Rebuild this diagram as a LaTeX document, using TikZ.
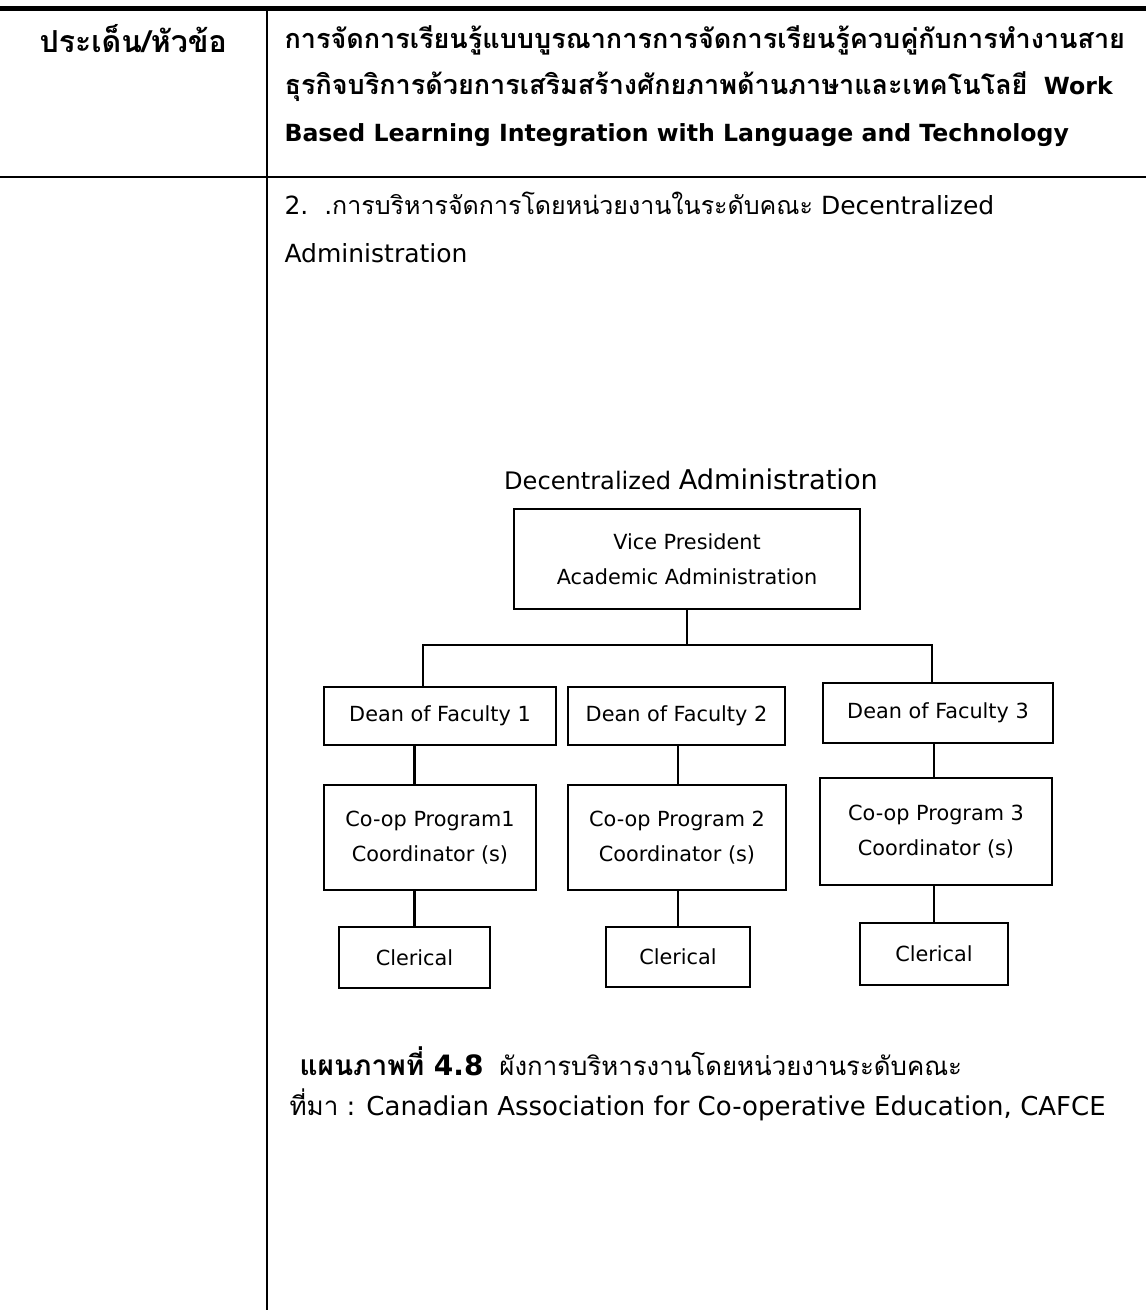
\documentclass[tikz,border=0pt]{standalone}
\usepackage{fontspec}
\setmainfont{DejaVu Sans}
\newfontfamily\thaifont[Script=Thai]{Loma}
\newcommand{\thai}[1]{{\thaifont #1}}
\usepackage{tikz}

\tikzset{
  orgbox/.style={draw, line width=1.2pt, inner sep=0pt, align=center,
    font=\fontsize{20.8}{35}\selectfont},
  link/.style={line width=2.2pt},
  headtext/.style={anchor=west, font=\bfseries\fontsize{27}{47}\selectfont},
  bodytext/.style={anchor=west, font=\fontsize{25}{50}\selectfont},
}

\begin{document}
\begin{tikzpicture}[x=1pt,y=-1pt]
  \useasboundingbox (0,0) rectangle (1146,1310);

  % Table rules
  \draw[line width=5pt] (0,8) -- (1146,8);
  \draw[line width=2.5pt] (0,177) -- (1146,177);
  \draw[line width=2pt] (267,8) -- (267,1310);

  % Header row
  \node[headtext, font=\bfseries\fontsize{30.3}{47}\selectfont] (head) at (36,39) {\thai{ประเด็น/หัวข้อ}};
  \node[headtext] (titleA) at (281,40) {\thai{การจัดการเรียนรู้แบบบูรณาการการจัดการเรียนรู้ควบคู่กับการทำงานสาย}};
  \node[headtext, font=\bfseries\fontsize{23.6}{47}\selectfont] (titleB) at (281,87) {{\fontsize{27}{47}\selectfont\thai{ธุรกิจบริการด้วยการเสริมสร้างศักยภาพด้านภาษาและเทคโนโลยี}}\ \ Work};
  \node[headtext, font=\bfseries\fontsize{23.6}{47}\selectfont] (titleC) at (281,135) {Based Learning Integration with Language and Technology};

  % Second row text
  \node[bodytext] (itemA) at (281,203) {2.\ \ .\thai{การบริหารจัดการโดยหน่วยงานในระดับคณะ} Decentralized};
  \node[bodytext] (itemB) at (281,253) {Administration};

  % Chart title
  \node[font=\fontsize{24.1}{27}\selectfont] (chart) at (691,479) {Decentralized {\fontsize{27.2}{27}\selectfont Administration}};

  % Boxes
  \node[orgbox, minimum width=346pt, minimum height=100pt] (vp) at (687,559) {Vice President\\Academic Administration};

  \node[orgbox, minimum width=232pt, minimum height=58pt] (dean1) at (440,716) {Dean of Faculty 1};
  \node[orgbox, minimum width=217pt, minimum height=58pt] (dean2) at (676.5,716) {Dean of Faculty 2};
  \node[orgbox, minimum width=230pt, minimum height=60pt] (dean3) at (938,713) {Dean of Faculty 3};

  \node[orgbox, minimum width=212pt, minimum height=105pt] (coop1) at (430,837.5) {Co-op Program1\\Coordinator (s)};
  \node[orgbox, minimum width=218pt, minimum height=105pt] (coop2) at (677,837.5) {Co-op Program 2\\Coordinator (s)};
  \node[orgbox, minimum width=232pt, minimum height=107pt] (coop3) at (936,831.5) {Co-op Program 3\\Coordinator (s)};

  \node[orgbox, minimum width=151pt, minimum height=61pt] (cler1) at (414.5,957.5) {Clerical};
  \node[orgbox, minimum width=144pt, minimum height=60pt] (cler2) at (678,957) {Clerical};
  \node[orgbox, minimum width=148pt, minimum height=62pt] (cler3) at (934,954) {Clerical};

  % Connectors
  \coordinate (busL) at (423,645);
  \coordinate (busR) at (932,645);
  \draw[link] (vp.south) -- (vp.south |- busL);
  \draw[link] (busL |- dean1.north) -- (busL) -- (busR) -- (busR |- dean3.north);

  \foreach \i in {1,2,3} {
    \draw[link] (cler\i.north |- dean\i.south) -- (cler\i.north |- coop\i.north);
    \draw[link] (cler\i.north |- coop\i.south) -- (cler\i.north);
  }

  % Caption and source
  \node[bodytext] (caption) at (296,1061) {{\bfseries\fontsize{28}{30}\selectfont\thai{แผนภาพที่} 4.8}\ \ {\fontsize{25.8}{30}\selectfont\thai{ผังการบริหารงานโดยหน่วยงานระดับคณะ}}};
  \node[bodytext, font=\fontsize{26}{50}\selectfont] (source) at (286,1105) {\thai{ที่มา} : Canadian Association for Co-operative Education, CAFCE};

\end{tikzpicture}
\end{document}
